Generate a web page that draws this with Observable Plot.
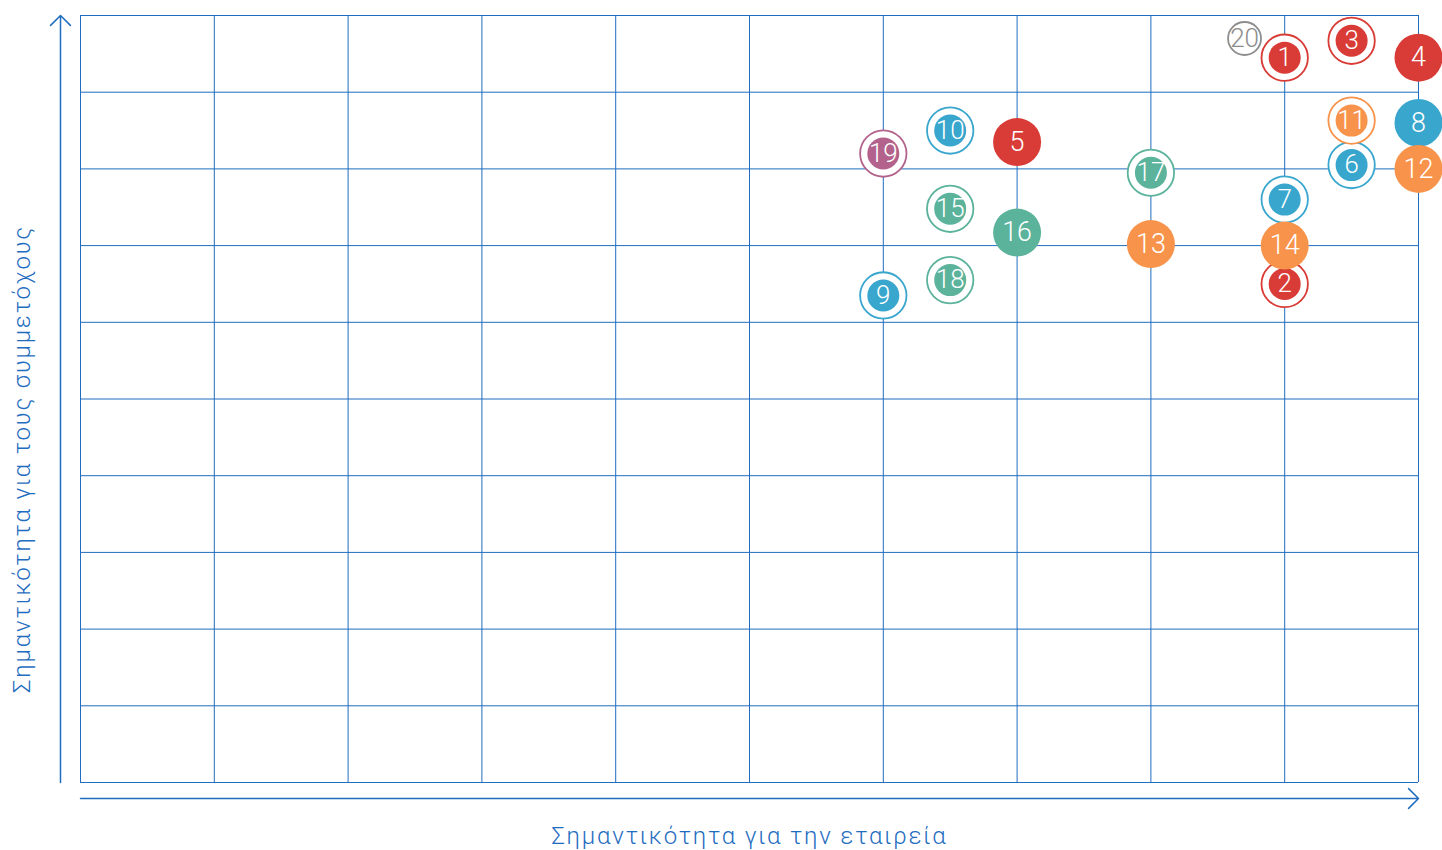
<!DOCTYPE html>
<html><head><meta charset="utf-8">
<script src="https://cdn.jsdelivr.net/npm/d3@7"></script>
<script src="https://cdn.jsdelivr.net/npm/@observablehq/plot@0.6"></script>
<style>
body{margin:0;background:#fff;}
</style></head>
<body><div id="chart"></div>
<script>
// Data
const ids = [1,2,3,4,5,6,7,8,9,10,11,12,13,14,15,16,17,18,19,20];
const companyImportance = [9, 9, 9.5, 10, 7, 9.5, 9, 10, 6, 6.5, 9.5, 10, 8, 9, 6.5, 7, 8, 6.5, 6, 8.7];
const stakeholderImportance = [9.45, 6.5, 9.67, 9.45, 8.35, 8.05, 7.6, 8.6, 6.35, 8.5, 8.63, 8.0, 7.02, 7.0, 7.48, 7.17, 7.95, 6.55, 8.2, 9.7];
const groups = ["red","red","red","red","red","blue","blue","blue","blue","blue","orange","orange","orange","orange","green","green","green","green","purple","gray"];
const styles = ["ring","ring","ring","fill","fill","ring","ring","fill","ring","ring","ring","fill","fill","fill","ring","fill","ring","ring","ring","outline"];
const gridTicks = [0,1,2,3,4,5,6,7,8,9,10];
const xTitle = "Σημαντικότητα για την εταιρεία";
const yTitle = "Σημαντικότητα για τους συμμετόχους";

const palette = {red:"#d93b36", blue:"#38a6cd", orange:"#f7934a", green:"#5bb39c", purple:"#b3628b", gray:"#8e8e8e"};
const gridColor = "#1f6dbf";

const data = ids.map((id,i)=>({id, x:companyImportance[i], y:stakeholderImportance[i], color:palette[groups[i]], style:styles[i]}));
// gray outline drawn first, then by id
const ordered = [...data.filter(d=>d.style==="outline"), ...data.filter(d=>d.style!=="outline")];

const xDomain = [gridTicks[0], gridTicks[gridTicks.length-1]];
const yDomain = [gridTicks[0], gridTicks[gridTicks.length-1]];

const font = "Roboto, 'Noto Sans', sans-serif";

const marks = [
  Plot.gridX(gridTicks, {stroke:gridColor, strokeOpacity:1, strokeWidth:1}),
  Plot.gridY(gridTicks, {stroke:gridColor, strokeOpacity:1, strokeWidth:1}),
  Plot.arrow([{x1:xDomain[0], x2:xDomain[1], y:yDomain[0]}], {x1:"x1", x2:"x2", y1:"y", y2:"y", dy:16, stroke:gridColor, strokeWidth:1.5, headAngle:90, headLength:14}),
  Plot.arrow([{x:xDomain[0], y1:yDomain[0], y2:yDomain[1]}], {x1:"x", x2:"x", y1:"y1", y2:"y2", dx:-20, stroke:gridColor, strokeWidth:1.5, headAngle:90, headLength:14}),
  Plot.text([xTitle], {frameAnchor:"bottom", dy:54, text:d=>d, fill:gridColor, fontSize:24, fontWeight:300, lineAnchor:"middle", textAnchor:"middle"}),
  Plot.text([yTitle], {frameAnchor:"left", dx:-58, dy:60, rotate:-90, text:d=>d, fill:gridColor, fontSize:24, fontWeight:300, lineAnchor:"middle", textAnchor:"middle"}),
];

for (const d of ordered) {
  if (d.style === "outline") {
    marks.push(Plot.dot([d], {x:"x", y:"y", r:16.5, fill:"white", stroke:d.color, strokeWidth:1.8}));
    marks.push(Plot.text([d], {x:"x", y:"y", text:"id", fill:d.color, fontSize:26, fontWeight:300}));
  } else if (d.style === "ring") {
    marks.push(Plot.dot([d], {x:"x", y:"y", r:23.2, fill:"white", stroke:d.color, strokeWidth:1.8}));
    marks.push(Plot.dot([d], {x:"x", y:"y", r:16, fill:d.color}));
    marks.push(Plot.text([d], {x:"x", y:"y", text:"id", fill:"white", fontSize:26, fontWeight:300}));
  } else {
    marks.push(Plot.dot([d], {x:"x", y:"y", r:24, fill:d.color}));
    marks.push(Plot.text([d], {x:"x", y:"y", text:"id", fill:"white", fontSize:27, fontWeight:300}));
  }
}

const chart = Plot.plot({
  width:1442, height:850,
  marginLeft:80, marginRight:24, marginTop:15, marginBottom:68,
  x:{domain:xDomain, axis:null},
  y:{domain:yDomain, axis:null},
  style:{fontFamily:font, background:"white", overflow:"visible"},
  marks
});
d3.select(chart).selectAll("text").filter(function(){ return this.textContent===xTitle || this.textContent===yTitle; })
  .style("letter-spacing","1.8px");
document.getElementById("chart").appendChild(chart);
</script></body></html>
